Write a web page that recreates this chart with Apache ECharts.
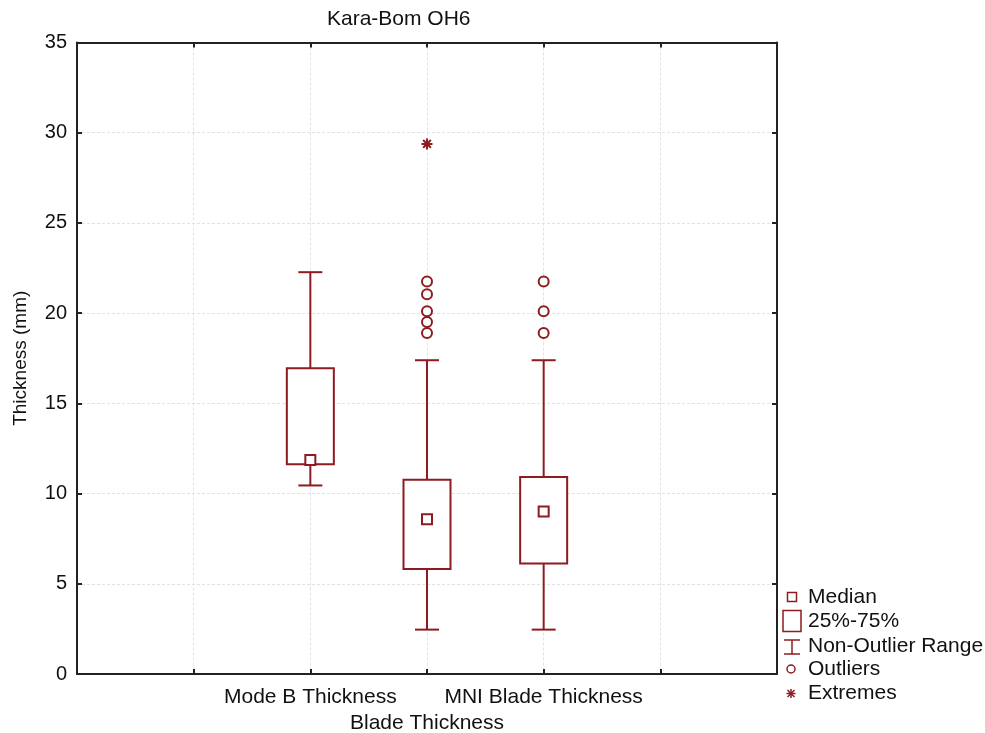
<!DOCTYPE html>
<html>
<head>
<meta charset="utf-8">
<script src="https://cdn.jsdelivr.net/npm/echarts@6/dist/echarts.min.js"></script>
<style>
  html, body { margin: 0; padding: 0; background: #fff; }
  #main { width: 985px; height: 733px; }
</style>
</head>
<body>
<div id="main"></div>
<script>
// 数据
var positions = [2, 3, 4];
var tickLabels = {2: 'Mode B Thickness', 4: 'MNI Blade Thickness'};
// [low, q1, median, q3, high]
var boxStats = [
    [10.45, 11.63, 11.86, 16.95, 22.27],
    [2.46, 5.82, 8.57, 10.77, 17.39],
    [2.46, 6.13, 9.0, 10.92, 17.39]
];
var outlierPos = [3, 3, 3, 3, 3, 4, 4, 4];
var outlierVal = [21.75, 21.05, 20.1, 19.51, 18.9, 21.75, 20.1, 18.9];
var extremePos = [3];
var extremeVal = [29.38];

var red = '#8c1c20';
var font = '"Liberation Sans", Arial, sans-serif';
var starPath = 'path://M5,0L5,10M0,5L10,5M1.5,1.5L8.5,8.5M1.5,8.5L8.5,1.5';

var myChart = echarts.init(document.getElementById('main'));

var boxData = positions.map(function (p, i) {
    return [p].concat(boxStats[i]);
});
var outlierData = outlierPos.map(function (p, i) { return [p, outlierVal[i]]; });
var extremeData = extremePos.map(function (p, i) { return [p, extremeVal[i]]; });

function renderBox(params, api) {
    var x = api.value(0);
    var low = api.coord([x, api.value(1)]);
    var q1 = api.coord([x, api.value(2)]);
    var med = api.coord([x, api.value(3)]);
    var q3 = api.coord([x, api.value(4)]);
    var high = api.coord([x, api.value(5)]);
    var bw = 47, cw = 24, mw = 10;
    var st = {stroke: red, lineWidth: 2, fill: null};
    return {
        type: 'group',
        children: [
            {type: 'line', shape: {x1: high[0], y1: high[1], x2: q3[0], y2: q3[1]}, style: st},
            {type: 'line', shape: {x1: q1[0], y1: q1[1], x2: low[0], y2: low[1]}, style: st},
            {type: 'line', shape: {x1: high[0] - cw / 2, y1: high[1], x2: high[0] + cw / 2, y2: high[1]}, style: st},
            {type: 'line', shape: {x1: low[0] - cw / 2, y1: low[1], x2: low[0] + cw / 2, y2: low[1]}, style: st},
            {type: 'rect', shape: {x: q3[0] - bw / 2, y: q3[1], width: bw, height: q1[1] - q3[1]}, style: {stroke: red, lineWidth: 2, fill: '#fff'}},
            {type: 'rect', shape: {x: med[0] - mw / 2, y: med[1] - mw / 2, width: mw, height: mw}, style: {stroke: red, lineWidth: 2, fill: '#fff'}}
        ]
    };
}

// 图例
var legendRows = [
    {y: 597, text: 'Median'},
    {y: 621, text: '25%-75%'},
    {y: 646, text: 'Non-Outlier Range'},
    {y: 669, text: 'Outliers'},
    {y: 693, text: 'Extremes'}
];
var lx = 792;
var ls = {stroke: red, lineWidth: 1.5, fill: '#fff'};
var graphics = [
    {type: 'rect', shape: {x: lx - 4.5, y: 597 - 4.5, width: 9, height: 9}, style: ls},
    {type: 'rect', shape: {x: lx - 9, y: 621 - 10.5, width: 18, height: 21}, style: ls},
    {type: 'line', shape: {x1: lx, y1: 640, x2: lx, y2: 654}, style: ls},
    {type: 'line', shape: {x1: lx - 8, y1: 640, x2: lx + 8, y2: 640}, style: ls},
    {type: 'line', shape: {x1: lx - 8, y1: 654, x2: lx + 8, y2: 654}, style: ls},
    {type: 'circle', shape: {cx: lx - 1, cy: 669, r: 4}, style: ls},
    {type: 'line', shape: {x1: lx - 1, y1: 689, x2: lx - 1, y2: 698}, style: ls},
    {type: 'line', shape: {x1: lx - 5.5, y1: 693.5, x2: lx + 3.5, y2: 693.5}, style: ls},
    {type: 'line', shape: {x1: lx - 4.5, y1: 690, x2: lx + 2.5, y2: 697}, style: ls},
    {type: 'line', shape: {x1: lx - 4.5, y1: 697, x2: lx + 2.5, y2: 690}, style: ls}
];
legendRows.forEach(function (r) {
    graphics.push({type: 'text', x: 808, y: r.y, style: {text: r.text, fill: '#111', font: '21px ' + font, textVerticalAlign: 'middle'}});
});

var axisLine = {show: true, onZero: false, lineStyle: {color: '#222', width: 2}};
var tickIn = {show: true, inside: true, length: 5, lineStyle: {color: '#222', width: 2}};
var gridLine = {show: true, lineStyle: {color: '#e2e2e2', type: [3, 2], width: 1}};

var option = {
    animation: false,
    backgroundColor: '#fff',
    title: {
        text: 'Kara-Bom OH6', left: 322, top: 4,
        textStyle: {fontFamily: font, fontSize: 21, fontWeight: 'normal', color: '#111'}
    },
    grid: {left: 77, right: 208, top: 42.5, bottom: 59, outerBoundsMode: 'none', containLabel: false},
    xAxis: [{
        type: 'value', min: 0, max: 6, interval: 1,
        name: 'Blade Thickness', nameLocation: 'middle', nameGap: 32,
        nameTextStyle: {fontFamily: font, fontSize: 21, color: '#111'},
        axisLine: axisLine, axisTick: tickIn, splitLine: gridLine,
        axisLabel: {
            fontFamily: font, fontSize: 21, color: '#111', margin: 13,
            formatter: function (v) { return tickLabels[v] || ''; }
        }
    }, {
        type: 'value', min: 0, max: 6, interval: 1, position: 'top',
        axisLine: axisLine, axisTick: tickIn, axisLabel: {show: false}, splitLine: {show: false}
    }],
    yAxis: [{
        type: 'value', min: 0, max: 35, interval: 5,
        name: 'Thickness (mm)', nameLocation: 'middle', nameGap: 47,
        nameTextStyle: {fontFamily: font, fontSize: 19, color: '#111'},
        axisLine: axisLine, axisTick: tickIn, splitLine: gridLine,
        axisLabel: {fontFamily: font, fontSize: 20, color: '#111', margin: 10}
    }, {
        type: 'value', min: 0, max: 35, interval: 5, position: 'right',
        axisLine: axisLine, axisTick: tickIn, axisLabel: {show: false}, splitLine: {show: false}
    }],
    series: [{
        name: 'Box', type: 'custom', renderItem: renderBox,
        encode: {x: 0, y: [1, 2, 3, 4, 5]}, data: boxData, z: 3
    }, {
        name: 'Outliers', type: 'scatter', data: outlierData,
        symbol: 'circle', symbolSize: 10,
        itemStyle: {color: '#fff', borderColor: red, borderWidth: 2, opacity: 1}, z: 4
    }, {
        name: 'Extremes', type: 'scatter', data: extremeData,
        symbol: starPath, symbolSize: 11,
        itemStyle: {color: 'none', borderColor: red, borderWidth: 2, opacity: 1}, z: 4
    }],
    graphic: graphics
};
myChart.setOption(option);
</script>
</body>
</html>
